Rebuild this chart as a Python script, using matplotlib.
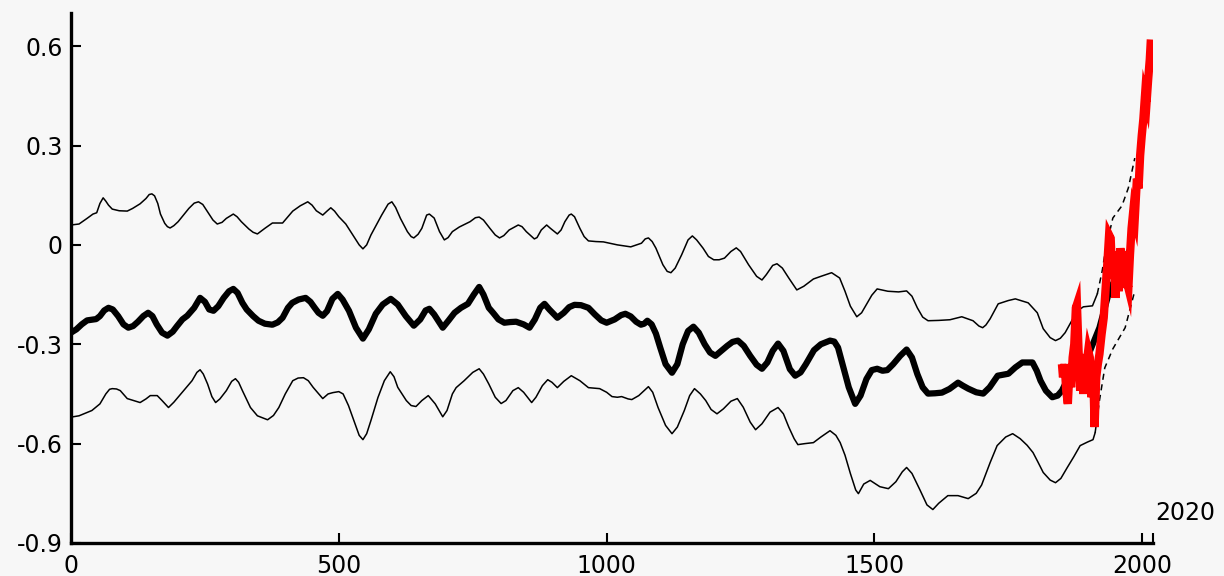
import matplotlib
matplotlib.use("Agg")
import matplotlib.pyplot as plt

plt.rcParams['font.family'] = ['DejaVu Sans']

# central reconstruction (thick black)
center_years = [0, 10, 20, 30, 39, 47, 54, 62, 70, 78, 88, 98, 107, 116, 125, 135, 144, 152, 160,
                170, 180, 190, 198, 208, 217, 230, 241, 250, 258, 266, 275, 285, 295, 303, 311, 320,
                328, 340, 350, 362, 376, 386, 395, 405, 413, 425, 438, 447, 455, 462, 470, 478, 488,
                498, 507, 519, 532, 545, 556, 569, 582, 597, 610, 625, 640, 652, 662, 669, 678, 694,
                705, 716, 728, 741, 752, 762, 770, 780, 788, 798, 809, 820, 831, 845, 856, 866, 876,
                884, 893, 908, 920, 930, 940, 952, 966, 978, 990, 1000, 1015, 1027, 1035, 1045, 1055,
                1064, 1070, 1076, 1084, 1092, 1100, 1110, 1122, 1132, 1142, 1152, 1162, 1172, 1183,
                1193, 1203, 1214, 1225, 1235, 1245, 1256, 1268, 1280, 1290, 1300, 1310, 1320, 1330,
                1342, 1352, 1362, 1372, 1387, 1400, 1417, 1425, 1432, 1442, 1452, 1464, 1474, 1485,
                1495, 1505, 1515, 1524, 1535, 1548, 1560, 1570, 1580, 1590, 1600, 1613, 1626, 1640,
                1656, 1665, 1675, 1690, 1703, 1715, 1730, 1740, 1750, 1763, 1776, 1795, 1803, 1810,
                1820, 1832, 1842, 1850, 1862, 1875, 1900, 1920, 1940, 1960, 1975]
center_vals = [-0.265, -0.255, -0.24, -0.228, -0.226, -0.224, -0.215, -0.198, -0.19, -0.195, -0.215,
               -0.24, -0.25, -0.245, -0.232, -0.215, -0.205, -0.215, -0.24, -0.265, -0.274, -0.262,
               -0.245, -0.225, -0.214, -0.19, -0.16, -0.172, -0.195, -0.199, -0.185, -0.16, -0.14,
               -0.133, -0.145, -0.175, -0.195, -0.215, -0.229, -0.238, -0.241, -0.234, -0.22, -0.19,
               -0.175, -0.165, -0.16, -0.172, -0.19, -0.205, -0.214, -0.2, -0.163, -0.148, -0.165,
               -0.199, -0.25, -0.283, -0.255, -0.208, -0.18, -0.163, -0.18, -0.215, -0.244, -0.225,
               -0.198, -0.193, -0.21, -0.25, -0.228, -0.205, -0.19, -0.178, -0.15, -0.127, -0.15,
               -0.19, -0.205, -0.225, -0.235, -0.233, -0.232, -0.24, -0.25, -0.225, -0.19, -0.178,
               -0.195, -0.22, -0.205, -0.188, -0.181, -0.182, -0.19, -0.21, -0.228, -0.235, -0.225,
               -0.212, -0.208, -0.216, -0.232, -0.241, -0.238, -0.229, -0.24, -0.268, -0.31, -0.36,
               -0.386, -0.36, -0.3, -0.26, -0.247, -0.265, -0.3, -0.325, -0.335, -0.32, -0.305,
               -0.293, -0.289, -0.305, -0.335, -0.362, -0.374, -0.355, -0.32, -0.298, -0.32, -0.375,
               -0.395, -0.385, -0.36, -0.318, -0.3, -0.289, -0.292, -0.31, -0.37, -0.43, -0.48,
               -0.455, -0.405, -0.378, -0.374, -0.38, -0.378, -0.36, -0.335, -0.316, -0.34, -0.39,
               -0.43, -0.449, -0.448, -0.446, -0.435, -0.416, -0.425, -0.434, -0.445, -0.449, -0.43,
               -0.395, -0.392, -0.389, -0.37, -0.355, -0.355, -0.38, -0.41, -0.44, -0.46, -0.455,
               -0.44, -0.4, -0.36, -0.33, -0.25, -0.13, -0.08, -0.02]

# upper uncertainty bound
upper_years = [0, 15, 30, 41, 48, 54, 60, 65, 70, 77, 90, 105, 115, 129, 140, 146, 151, 156, 162,
               167, 175, 180, 185, 192, 200, 220, 230, 238, 246, 255, 265, 273, 282, 290, 303, 310,
               318, 332, 340, 348, 362, 376, 395, 405, 414, 428, 442, 450, 458, 470, 478, 485, 492,
               500, 513, 530, 538, 545, 552, 560, 580, 592, 599, 606, 615, 628, 635, 640, 648, 655,
               664, 669, 678, 688, 697, 704, 712, 725, 745, 755, 762, 770, 782, 792, 800, 808, 818,
               835, 842, 850, 865, 870, 878, 888, 895, 908, 915, 922, 930, 934, 940, 950, 958, 966,
               980, 994, 1020, 1045, 1065, 1072, 1078, 1085, 1092, 1105, 1113, 1120, 1128, 1140,
               1152, 1160, 1168, 1180, 1190, 1200, 1210, 1220, 1232, 1242, 1250, 1265, 1280, 1290,
               1298, 1310, 1318, 1328, 1340, 1355, 1368, 1386, 1400, 1420, 1435, 1445, 1455, 1467,
               1476, 1485, 1495, 1505, 1525, 1545, 1560, 1570, 1580, 1590, 1600, 1620, 1641, 1663,
               1684, 1695, 1702, 1708, 1716, 1731, 1750, 1763, 1787, 1804, 1815, 1828, 1838, 1847,
               1856, 1868, 1879, 1890, 1907, 1916]
upper_vals = [0.06, 0.063, 0.08, 0.093, 0.097, 0.125, 0.142, 0.132, 0.12, 0.108, 0.103, 0.102, 0.11,
              0.124, 0.14, 0.152, 0.154, 0.148, 0.125, 0.093, 0.065, 0.055, 0.051, 0.058, 0.07, 0.11,
              0.126, 0.13, 0.122, 0.1, 0.075, 0.063, 0.068, 0.08, 0.093, 0.085, 0.07, 0.048, 0.038,
              0.033, 0.05, 0.066, 0.066, 0.085, 0.102, 0.118, 0.13, 0.12, 0.103, 0.09, 0.102, 0.112,
              0.102, 0.085, 0.063, 0.02, 0.0, -0.012, 0.0, 0.03, 0.09, 0.123, 0.13, 0.113, 0.08, 0.04,
              0.025, 0.021, 0.032, 0.05, 0.09, 0.093, 0.081, 0.04, 0.015, 0.022, 0.04, 0.054, 0.07,
              0.082, 0.084, 0.075, 0.05, 0.03, 0.021, 0.028, 0.045, 0.06, 0.055, 0.04, 0.018, 0.022,
              0.045, 0.06, 0.05, 0.033, 0.045, 0.07, 0.09, 0.093, 0.085, 0.05, 0.025, 0.012, 0.01,
              0.009, 0.0, -0.006, 0.005, 0.018, 0.021, 0.01, -0.01, -0.06, -0.08, -0.084, -0.07,
              -0.03, 0.015, 0.027, 0.015, -0.01, -0.035, -0.045, -0.045, -0.04, -0.02, -0.009,
              -0.02, -0.06, -0.095, -0.106, -0.09, -0.062, -0.057, -0.07, -0.1, -0.136, -0.125,
              -0.103, -0.095, -0.084, -0.1, -0.14, -0.185, -0.217, -0.205, -0.18, -0.152, -0.133,
              -0.14, -0.142, -0.139, -0.155, -0.19, -0.218, -0.229, -0.228, -0.226, -0.217, -0.229,
              -0.245, -0.25, -0.242, -0.223, -0.178, -0.168, -0.163, -0.175, -0.205, -0.253, -0.28,
              -0.289, -0.282, -0.265, -0.23, -0.199, -0.187, -0.184, -0.148]
upper_tail_years = [1916, 1925, 1932, 1945, 1962, 1974, 1986]
upper_tail_vals = [-0.148, -0.08, -0.009, 0.081, 0.118, 0.172, 0.262]

# lower uncertainty bound
lower_years = [0, 15, 39, 54, 65, 72, 77, 85, 92, 105, 129, 140, 148, 161, 170, 182, 192, 205, 226,
               235, 241, 247, 255, 263, 270, 278, 290, 300, 307, 313, 320, 335, 348, 367, 378, 388,
               400, 414, 424, 434, 443, 452, 470, 480, 489, 500, 508, 518, 528, 538, 545, 552, 560,
               573, 585, 596, 603, 610, 626, 635, 644, 655, 667, 680, 694, 702, 712, 719, 734, 750,
               762, 770, 780, 792, 803, 812, 825, 835, 845, 860, 868, 880, 890, 898, 908, 920, 934,
               950, 966, 987, 1000, 1010, 1020, 1028, 1040, 1047, 1060, 1078, 1086, 1096, 1110,
               1122, 1132, 1145, 1155, 1164, 1175, 1185, 1195, 1206, 1218, 1232, 1244, 1255, 1268,
               1278, 1290, 1305, 1320, 1330, 1340, 1350, 1357, 1370, 1386, 1400, 1417, 1428, 1436,
               1445, 1455, 1465, 1470, 1480, 1492, 1510, 1526, 1540, 1552, 1560, 1570, 1585, 1598,
               1609, 1620, 1637, 1656, 1675, 1690, 1700, 1716, 1729, 1745, 1758, 1772, 1785, 1796,
               1805, 1815, 1828, 1838, 1848, 1860, 1872, 1884, 1898, 1908, 1912]
lower_vals = [-0.52, -0.516, -0.5, -0.48, -0.45, -0.436, -0.434, -0.435, -0.44, -0.464, -0.476,
              -0.465, -0.455, -0.455, -0.47, -0.491, -0.475, -0.45, -0.41, -0.385, -0.377, -0.39,
              -0.42, -0.458, -0.476, -0.465, -0.44, -0.412, -0.404, -0.415, -0.44, -0.491, -0.516,
              -0.528, -0.515, -0.491, -0.45, -0.41, -0.402, -0.401, -0.41, -0.43, -0.464, -0.45,
              -0.446, -0.443, -0.45, -0.485, -0.53, -0.575, -0.588, -0.57, -0.53, -0.461, -0.41,
              -0.383, -0.398, -0.43, -0.47, -0.485, -0.488, -0.47, -0.455, -0.48, -0.519, -0.5,
              -0.45, -0.431, -0.41, -0.385, -0.374, -0.39, -0.42, -0.46, -0.479, -0.47, -0.44,
              -0.431, -0.445, -0.476, -0.46, -0.425, -0.407, -0.415, -0.431, -0.412, -0.395, -0.41,
              -0.431, -0.434, -0.445, -0.458, -0.46, -0.458, -0.465, -0.467, -0.455, -0.428, -0.445,
              -0.491, -0.545, -0.57, -0.55, -0.5, -0.455, -0.434, -0.45, -0.47, -0.497, -0.51,
              -0.495, -0.472, -0.464, -0.49, -0.535, -0.558, -0.54, -0.505, -0.491, -0.51, -0.55,
              -0.585, -0.603, -0.6, -0.597, -0.58, -0.561, -0.575, -0.597, -0.635, -0.69, -0.74,
              -0.751, -0.722, -0.711, -0.73, -0.736, -0.715, -0.685, -0.672, -0.69, -0.74, -0.785,
              -0.799, -0.78, -0.757, -0.757, -0.766, -0.75, -0.725, -0.657, -0.606, -0.58, -0.57,
              -0.585, -0.605, -0.627, -0.655, -0.687, -0.71, -0.718, -0.705, -0.672, -0.64, -0.606,
              -0.595, -0.588, -0.567]
lower_tail_years = [1912, 1920, 1930, 1945, 1968, 1985]
lower_tail_vals = [-0.567, -0.47, -0.371, -0.314, -0.25, -0.145]

# instrumental record (red)
inst_years = [1850, 1852, 1855, 1858, 1861, 1864, 1867, 1870, 1873, 1876, 1878, 1881, 1884, 1887,
              1890, 1893, 1896, 1899, 1902, 1905, 1908, 1911, 1914, 1917, 1920, 1924, 1928, 1932,
              1935, 1938, 1941, 1944, 1947, 1950, 1953, 1956, 1959, 1962, 1965, 1968, 1971, 1974,
              1977, 1980, 1983, 1986, 1990, 1993, 1996, 1999, 2002, 2005, 2008, 2011, 2014, 2016]
inst_vals = [-0.36, -0.4, -0.36, -0.44, -0.48, -0.38, -0.43, -0.34, -0.3, -0.19, -0.18, -0.32,
             -0.44, -0.36, -0.45, -0.33, -0.36, -0.32, -0.34, -0.46, -0.36, -0.55, -0.4, -0.36,
             -0.33, -0.27, -0.22, -0.12, -0.05, 0.03, 0.02, -0.1, -0.02, -0.16, -0.04, -0.14, -0.01,
             -0.06, -0.13, -0.02, -0.11, -0.13, -0.03, 0.05, 0.1, 0.08, 0.2, 0.17, 0.27, 0.33, 0.38,
             0.45, 0.43, 0.5, 0.56, 0.62]

yticks = [0.6, 0.3, 0, -0.3, -0.6, -0.9]
ytick_labels = ["0.6", "0.3", "0", "-0.3", "-0.6", "-0.9"]
xticks = [0, 500, 1000, 1500, 2000, 2020]
xtick_labels = ["0", "500", "1000", "1500", "2000", ""]

bg = '#f7f7f7'
fig = plt.figure(figsize=(12.24, 5.76), dpi=100, facecolor=bg)
ax = fig.add_axes([71/1224, 33/576, 1082/1224, 530/576])
ax.set_facecolor(bg)

ax.plot(upper_years, upper_vals, color='black', lw=1.1)
ax.plot(upper_tail_years, upper_tail_vals, color='black', lw=1.1, ls=(0, (4, 3)))
ax.plot(lower_years, lower_vals, color='black', lw=1.1)
ax.plot(lower_tail_years, lower_tail_vals, color='black', lw=1.1, ls=(0, (4, 3)))
ax.plot(center_years, center_vals, color='black', lw=4.5,
        solid_capstyle='round', solid_joinstyle='round')
ax.plot(inst_years, inst_vals, color='red', lw=6,
        solid_capstyle='butt', solid_joinstyle='miter', zorder=5)

ax.set_xlim(0, 2020)
ax.set_ylim(-0.9, 0.7)
ax.set_xticks(xticks)
ax.set_xticklabels(xtick_labels)
ax.set_yticks(yticks)
ax.set_yticklabels(ytick_labels)

for s in ['top', 'right']:
    ax.spines[s].set_visible(False)
for s in ['left', 'bottom']:
    ax.spines[s].set_linewidth(2.4)
ax.tick_params(direction='in', length=7, width=1.5, labelsize=17, colors='black')
ax.tick_params(axis='y', pad=6)
ax.tick_params(axis='x', pad=8)

ax.text(2080, -0.81, "2020", fontsize=17, ha='center', va='center', clip_on=False)

fig.savefig("out.png", dpi=100, facecolor=bg)
